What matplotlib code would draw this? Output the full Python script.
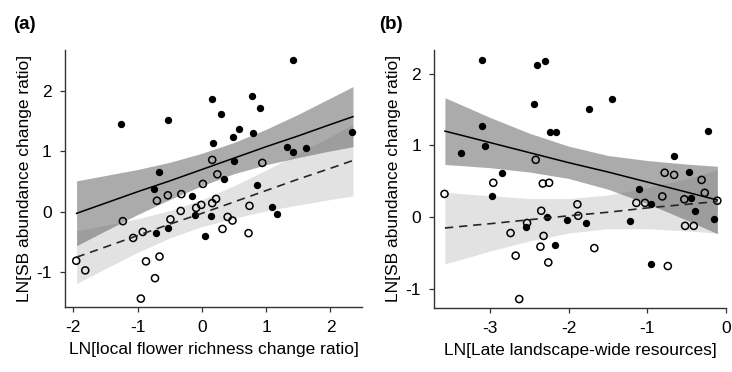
import numpy as np
import matplotlib.pyplot as plt

plt.rcParams['font.family'] = ['Liberation Sans', 'DejaVu Sans']
plt.rcParams['axes.unicode_minus'] = False

# ---- panel (a): local flower richness change ratio
a_fill_x = [-1.26, -0.535, 0.155, 0.29, 0.78, 0.91, 1.41, 0.49, 0.58, 0.80, 0.18, 0.50, 1.33, 1.42,
            1.62, 2.34, -0.66, 0.35, 0.855, -0.74, -0.155, -0.10, 0.14, 0.05, -0.72, -0.53, 1.09, 1.17]
a_fill_y = [1.46, 1.53, 1.87, 1.62, 1.92, 1.73, 2.53, 1.24, 1.37, 1.30, 1.14, 0.845, 1.08, 0.995,
            1.06, 1.32, 0.66, 0.54, 0.44, 0.37, 0.26, -0.06, -0.07, -0.40, -0.35, -0.28, 0.07, -0.04]
a_open_x = [0.16, 0.94, 0.24, 0.015, -0.53, -0.32, -0.70, -0.33, -0.09, -0.01, 0.16, 0.22, 0.74, -1.23,
            -0.49, -0.92, -1.07, -1.955, -1.815, -0.87, -0.66, -0.73, -0.95, 0.40, 0.475, 0.32, 0.725]
a_open_y = [0.86, 0.81, 0.62, 0.46, 0.27, 0.29, 0.18, 0.01, 0.06, 0.11, 0.14, 0.21, 0.095, -0.16,
            -0.13, -0.34, -0.44, -0.82, -0.98, -0.83, -0.75, -1.11, -1.45, -0.09, -0.15, -0.29, -0.36]
a_band_x = [-1.95, -1.5, -1, -0.5, 0, 0.5, 1, 1.5, 2, 2.35]
a_solid_fit = [-0.03, 0.14, 0.33, 0.51, 0.70, 0.89, 1.08, 1.26, 1.45, 1.58]
a_solid_hi = [0.51, 0.60, 0.70, 0.82, 0.97, 1.15, 1.37, 1.62, 1.89, 2.08]
a_solid_lo = [-0.57, -0.32, -0.05, 0.20, 0.43, 0.63, 0.78, 0.90, 1.01, 1.08]
a_dash_fit = [-0.76, -0.59, -0.40, -0.21, -0.03, 0.16, 0.35, 0.54, 0.72, 0.85]
a_dash_hi = [-0.32, -0.23, -0.12, 0.015, 0.20, 0.43, 0.69, 0.97, 1.25, 1.45]
a_dash_lo = [-1.20, -0.95, -0.68, -0.44, -0.25, -0.11, 0.01, 0.11, 0.20, 0.26]

# ---- panel (b): late landscape-wide resources
b_fill_x = [-3.10, -2.40, -2.30, -2.44, -1.74, -1.45, -3.10, -3.07, -3.375, -2.24, -2.16, -0.23, -0.66, -2.85,
            -0.47, -1.11, -2.98, -0.44, -0.40, -0.15, -0.96, -1.22, -1.78, -2.02, -2.275, -2.54, -2.17, -0.96]
b_fill_y = [2.19, 2.12, 2.17, 1.58, 1.51, 1.65, 1.27, 0.99, 0.89, 1.19, 1.19, 1.20, 0.85, 0.62,
            0.63, 0.40, 0.29, 0.265, 0.08, -0.02, 0.19, -0.05, -0.08, -0.04, 0.01, -0.13, -0.39, -0.65]
b_open_x = [-3.58, -2.42, -2.96, -2.33, -2.25, -0.78, -0.66, -0.31, -0.27, -0.81, -1.14, -1.03, -0.53, -0.11,
            -0.52, -0.41, -1.89, -1.88, -2.35, -2.53, -2.74, -2.32, -2.36, -2.675, -2.26, -1.675, -0.74, -2.63]
b_open_y = [0.325, 0.80, 0.48, 0.47, 0.48, 0.62, 0.59, 0.52, 0.34, 0.29, 0.20, 0.20, 0.25, 0.23,
            -0.12, -0.12, 0.18, 0.02, 0.09, -0.08, -0.22, -0.26, -0.41, -0.535, -0.63, -0.43, -0.68, -1.14]
b_band_x = [-3.575, -3.25, -3, -2.5, -2, -1.5, -1, -0.5, -0.11]
b_solid_fit = [1.20, 1.11, 1.04, 0.90, 0.76, 0.63, 0.49, 0.35, 0.24]
b_solid_hi = [1.665, 1.51, 1.39, 1.17, 0.99, 0.86, 0.79, 0.74, 0.71]
b_solid_lo = [0.735, 0.71, 0.69, 0.63, 0.54, 0.39, 0.19, -0.04, -0.23]
b_dash_fit = [-0.15, -0.115, -0.09, -0.035, 0.02, 0.07, 0.13, 0.18, 0.22]
b_dash_hi = [0.35, 0.32, 0.30, 0.26, 0.26, 0.31, 0.41, 0.54, 0.66]
b_dash_lo = [-0.65, -0.55, -0.47, -0.33, -0.22, -0.16, -0.16, -0.19, -0.22]


def panel(ax, bx, s_fit, s_hi, s_lo, d_fit, d_hi, d_lo, fx, fy, ox, oy):
    ax.fill_between(bx, d_lo, d_hi, color='0.6', alpha=0.28, lw=0, zorder=1)
    ax.fill_between(bx, s_lo, s_hi, color='0.35', alpha=0.5, lw=0, zorder=2)
    ax.scatter(ox, oy, s=26, facecolors='none', edgecolors='black', linewidths=1.1, zorder=3)
    ax.scatter(fx, fy, s=28, color='black', lw=0, zorder=3)
    ax.plot(bx, s_fit, '-', color='black', lw=1.1, zorder=4)
    ax.plot(bx, d_fit, '--', color='0.15', lw=1.2, dashes=(5, 3.5), zorder=4)
    for sp in ['top', 'right']:
        ax.spines[sp].set_visible(False)
    for sp in ['left', 'bottom']:
        ax.spines[sp].set_color('0.2')
        ax.spines[sp].set_linewidth(1.0)
    ax.tick_params(direction='out', length=3.5, width=0.9, color='0.2', labelsize=12.5, pad=6)
    ax.set_ylabel('LN[SB abundance change ratio]', fontsize=12.5, labelpad=3)


fig = plt.figure(figsize=(7.32, 3.72), dpi=100)
ax1 = fig.add_axes([0.0888, 0.1747, 0.4057, 0.6909])
ax2 = fig.add_axes([0.5933, 0.1729, 0.3985, 0.6927])

panel(ax1, a_band_x, a_solid_fit, a_solid_hi, a_solid_lo, a_dash_fit, a_dash_hi, a_dash_lo,
      a_fill_x, a_fill_y, a_open_x, a_open_y)
ax1.set_xlim(-2.13, 2.49)
ax1.set_ylim(-1.59, 2.69)
ax1.set_xticks([-2, -1, 0, 1, 2])
ax1.set_yticks([-1, 0, 1, 2])
ax1.set_xlabel('LN[local flower richness change ratio]', fontsize=12.5, labelpad=5)

panel(ax2, b_band_x, b_solid_fit, b_solid_hi, b_solid_lo, b_dash_fit, b_dash_hi, b_dash_lo,
      b_fill_x, b_fill_y, b_open_x, b_open_y)
ax2.set_xlim(-3.71, 0.0)
ax2.set_ylim(-1.26, 2.33)
ax2.set_xticks([-3, -2, -1, 0])
ax2.set_yticks([-1, 0, 1, 2])
ax2.set_xlabel('LN[Late landscape-wide resources]', fontsize=12.5, labelpad=5)

fig.text(0.018, 0.935, '(a)', fontsize=13.5, fontweight='bold', va='center')
fig.text(0.518, 0.935, '(b)', fontsize=13.5, fontweight='bold', va='center')

fig.savefig('out.png', dpi=100)
